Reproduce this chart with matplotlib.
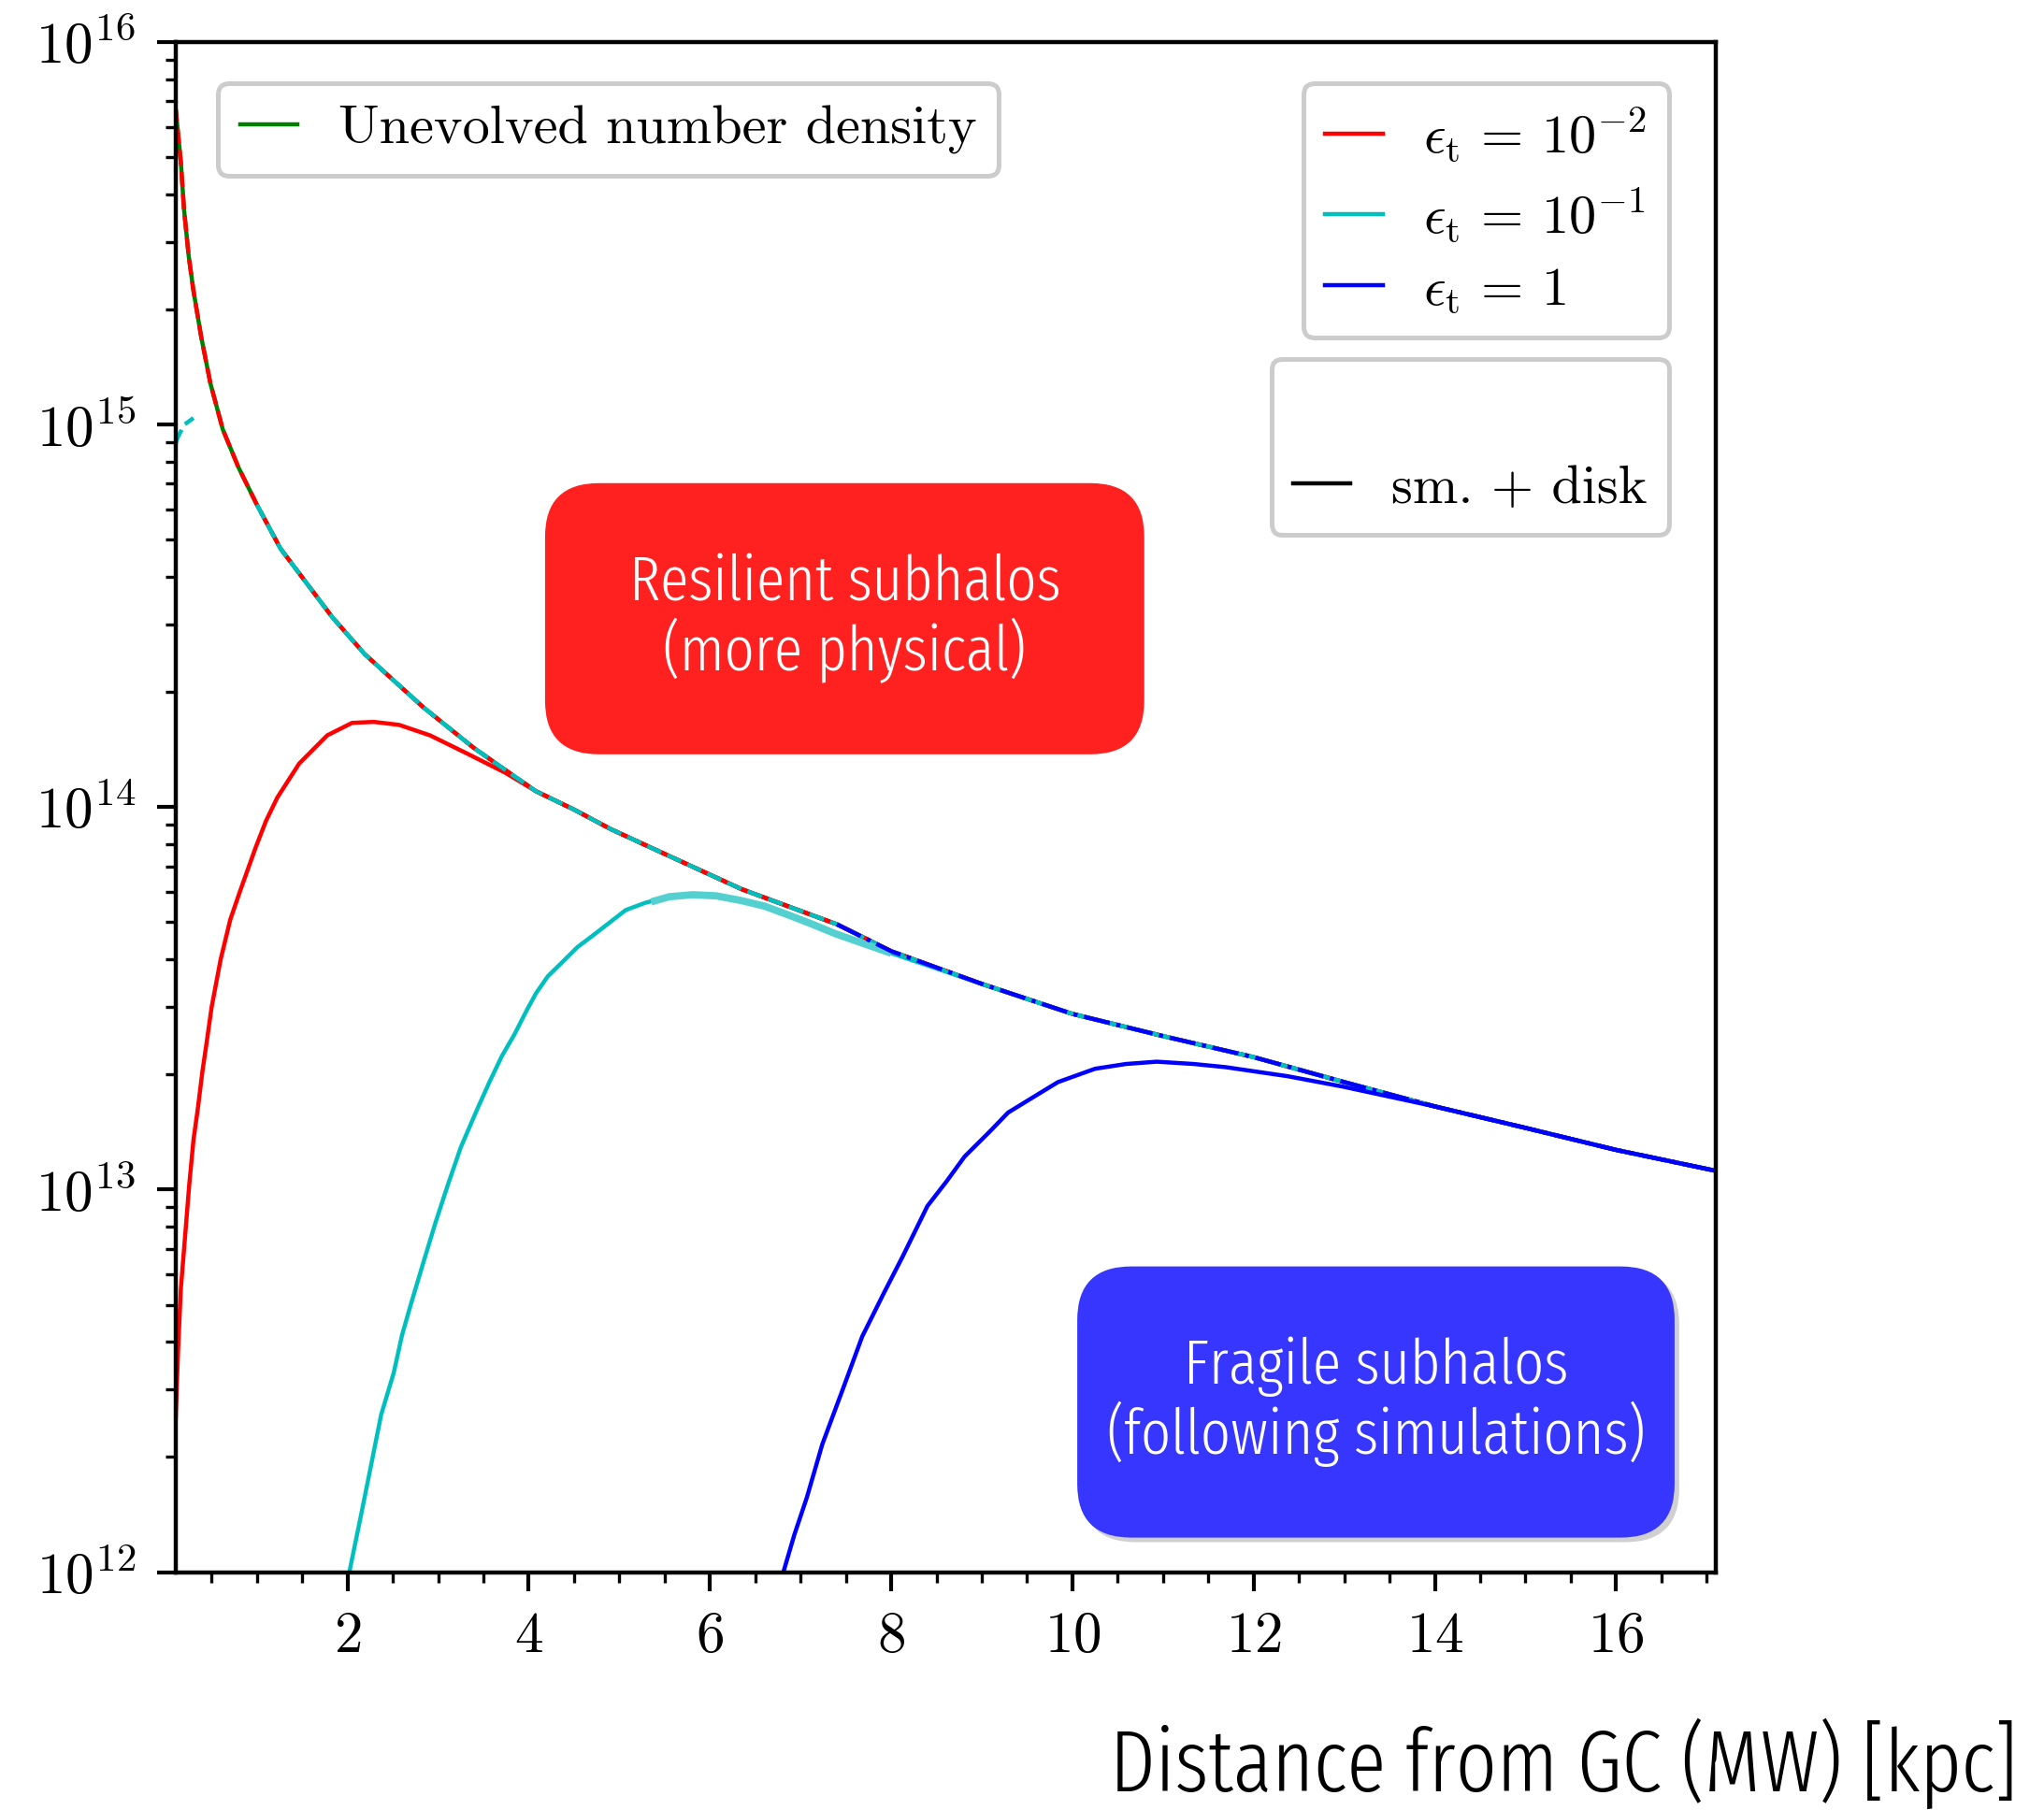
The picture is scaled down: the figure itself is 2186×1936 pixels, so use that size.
import numpy as np
import matplotlib
matplotlib.use('Agg')
import matplotlib.pyplot as plt
from matplotlib.lines import Line2D
from matplotlib.patches import FancyBboxPatch
from matplotlib.ticker import MultipleLocator

plt.rcParams['font.family'] = 'serif'
plt.rcParams['font.serif'] = ['cmr10']
plt.rcParams['mathtext.fontset'] = 'cm'
plt.rcParams['axes.formatter.use_mathtext'] = True
plt.rcParams['axes.unicode_minus'] = False

# unevolved number density (envelope)
r_env = [0.1, 0.16, 0.195, 0.246, 0.298, 0.384, 0.487, 0.624, 0.796, 1.0,
         1.26, 1.57, 1.83, 2.19, 2.55, 2.84, 3.39, 3.7, 4.08, 4.5, 4.9, 5.3,
         6.35, 7.4, 8.0, 9.0, 10.0, 11.0, 12.0, 13.0, 14.0, 15.0, 16.0, 17.1]
n_env = [6.8e15, 4.86e15, 3.66e15, 2.77e15, 2.25e15, 1.70e15, 1.28e15, 9.7e14,
         7.73e14, 6.17e14, 4.74e14, 3.79e14, 3.14e14, 2.51e14, 2.1e14, 1.82e14,
         1.43e14, 1.27e14, 1.10e14, 9.85e13, 8.77e13, 7.93e13, 6.1e13, 4.94e13,
         4.2e13, 3.45e13, 2.88e13, 2.52e13, 2.22e13, 1.91e13, 1.65e13, 1.45e13,
         1.27e13, 1.12e13]

# smooth + disk, rising part of each curve (joins the envelope afterwards)
r_red = [0.1, 0.13, 0.16, 0.2, 0.253, 0.3, 0.345, 0.4, 0.437, 0.5, 0.6, 0.706,
         0.814, 0.985, 1.1, 1.226, 1.467, 1.776, 2.05, 2.29, 2.57, 2.91, 3.32,
         3.74, 4.08]
n_red = [2.4e12, 3.8e12, 5.5e12, 7.2e12, 1.03e13, 1.35e13, 1.61e13, 2.05e13,
         2.35e13, 3.0e13, 4.0e13, 5.08e13, 6.03e13, 7.83e13, 9.2e13, 1.06e14,
         1.30e14, 1.54e14, 1.66e14, 1.67e14, 1.64e14, 1.54e14, 1.38e14,
         1.23e14, 1.10e14]
r_cyan = [2.02, 2.141, 2.233, 2.371, 2.51, 2.601, 2.693, 2.83, 2.97, 3.108,
          3.25, 3.43, 3.57, 3.706, 3.84, 3.98, 4.08, 4.21, 4.35, 4.535, 4.72,
          5.07, 5.285, 5.55, 5.81, 6.07, 6.34, 6.60, 6.86, 7.13, 7.39, 8.0]
n_cyan = [1.0e12, 1.38e12, 1.77e12, 2.58e12, 3.32e12, 4.16e12, 4.96e12,
          6.37e12, 8.19e12, 1.03e13, 1.29e13, 1.62e13, 1.92e13, 2.24e13,
          2.54e13, 2.95e13, 3.26e13, 3.61e13, 3.89e13, 4.3e13, 4.64e13,
          5.38e13, 5.62e13, 5.83e13, 5.9e13, 5.86e13, 5.7e13, 5.51e13, 5.23e13,
          4.94e13, 4.66e13, 4.15e13]
r_blue = [6.81, 6.93, 7.07, 7.24, 7.48, 7.68, 7.92, 8.13, 8.40, 8.61, 8.81,
          9.09, 9.29, 9.56, 9.84, 10.25, 10.59, 10.93, 11.34, 11.69, 12.37,
          12.98]
n_blue = [1.0e12, 1.25e12, 1.57e12, 2.16e12, 3.07e12, 4.13e12, 5.37e12,
          6.71e12, 9.06e12, 1.05e13, 1.22e13, 1.42e13, 1.59e13, 1.74e13,
          1.91e13, 2.07e13, 2.13e13, 2.16e13, 2.13e13, 2.09e13, 1.98e13, 1.86e13]

# short piece of the eps=0.1 dashed curve near the centre
r_cyan_in = [0.1, 0.13, 0.2, 0.3]
n_cyan_in = [8.9e14, 9.3e14, 1.0e15, 1.04e15]

# highlighted part of the eps=0.1 curve
r_hl = [5.35, 5.55, 5.81, 6.07, 6.34, 6.60, 6.86, 7.13, 7.39, 8.0]
n_hl = [5.65e13, 5.83e13, 5.9e13, 5.86e13, 5.7e13, 5.51e13, 5.23e13, 4.94e13,
        4.66e13, 4.15e13]

eps_labels = [r'$\epsilon_{\rm t} \,=\, 10^{-2}$', r'$\epsilon_{\rm t} \,=\, 10^{-1}$',
              r'$\epsilon_{\rm t} \,=\, 1$']
eps_colors = ['r', 'c', 'b']

r_env = np.array(r_env)
n_env = np.array(n_env)


def with_tail(r, n, r_from):
    m = r_env >= r_from
    return np.concatenate([r, r_env[m]]), np.concatenate([n, n_env[m]])


fig = plt.figure(figsize=(10.93, 9.68), dpi=200)
ax = fig.add_axes([0.0858, 0.1314, 0.7536, 0.8454])

lw = 1.6
ax.plot(r_env, n_env, color='g', lw=lw)

# eps = 1e-2
ax.plot(r_env, n_env, color='r', ls='--', lw=lw)
x, y = with_tail(r_red, n_red, 4.5)
ax.plot(x, y, color='r', lw=lw)

# eps = 1e-1
m = r_env >= 0.97
ax.plot(r_cyan_in, n_cyan_in, color='c', ls='--', lw=lw)
ax.plot(r_env[m], n_env[m], color='c', ls='--', lw=lw)
x, y = with_tail(r_cyan, n_cyan, 9.0)
ax.plot(x, y, color='c', lw=lw)
ax.plot(r_hl, n_hl, color='#55d0d0', lw=2.8, solid_capstyle='butt')

# eps = 1
m = r_env >= 7.0
ax.plot(r_env[m], n_env[m], color='b', ls='-.', lw=lw)
x, y = with_tail(r_blue, n_blue, 14.0)
ax.plot(x, y, color='b', lw=lw)

ax.set_yscale('log')
ax.set_xlim(0.1, 17.1)
ax.set_ylim(1e12, 1e16)
ax.xaxis.set_major_locator(MultipleLocator(2))
ax.xaxis.set_minor_locator(MultipleLocator(0.5))
ax.tick_params(which='both', direction='out', top=False, right=False,
               labelsize=22, pad=8)
ax.tick_params(which='major', length=7.3, width=1.5)
ax.tick_params(which='minor', length=4, width=1.2)
for s in ax.spines.values():
    s.set_linewidth(1.6)

leg_kw = dict(fontsize=21, framealpha=1, edgecolor='0.8', borderaxespad=0,
              handlelength=1.05, handletextpad=0.75, fancybox=True)

h_unev = [Line2D([], [], color='g', lw=lw)]
leg1 = ax.legend(h_unev, ['Unevolved number density'], loc='upper left',
                 bbox_to_anchor=(0.0278, 0.973), **leg_kw)
leg1.get_frame().set_linewidth(1.8)
ax.add_artist(leg1)

h_eps = [Line2D([], [], color=c, lw=lw) for c in eps_colors]
leg2 = ax.legend(h_eps, eps_labels, loc='upper right',
                 bbox_to_anchor=(0.9695, 0.973), labelspacing=0.4, **leg_kw)
leg2.get_frame().set_linewidth(1.8)
ax.add_artist(leg2)

h_sm = [Line2D([], [], color='none', lw=lw), Line2D([], [], color='k', lw=lw)]
leg3 = ax.legend(h_sm, [' ', 'sm. + disk'], loc='upper right',
                 bbox_to_anchor=(0.9695, 0.793), labelspacing=0.65, **leg_kw)
leg3.get_frame().set_linewidth(1.8)

sans = ['Fira Sans Extra Condensed', 'Fira Sans Condensed', 'Open Sans',
        'DejaVu Sans']

# annotation boxes
box_red = FancyBboxPatch((0.240, 0.5345), 0.389, 0.1772,
                         boxstyle='round,pad=0,rounding_size=0.035',
                         transform=ax.transAxes, fc='#ff2020', ec='none', zorder=5)
ax.add_patch(box_red)
ax.text(0.4345, 0.6231, 'Resilient subhalos\n(more physical)', transform=ax.transAxes,
        ha='center', va='center', color='white', fontsize=24.5, family=sans,
        weight=300, linespacing=1.08, zorder=6)

box_shadow = FancyBboxPatch((0.5885, 0.0196), 0.3878, 0.1772,
                            boxstyle='round,pad=0,rounding_size=0.035',
                            transform=ax.transAxes, fc='#d0d0d0', ec='none', zorder=4)
ax.add_patch(box_shadow)
box_blue = FancyBboxPatch((0.5855, 0.0226), 0.3878, 0.1772,
                          boxstyle='round,pad=0,rounding_size=0.035',
                          transform=ax.transAxes, fc='#3636ff', ec='none', zorder=5)
ax.add_patch(box_blue)
ax.text(0.7794, 0.1112, 'Fragile subhalos\n(following simulations)',
        transform=ax.transAxes, ha='center', va='center', color='white',
        fontsize=24.5, family=sans, weight=300, linespacing=1.08, zorder=6)

fig.text(0.987, 1 - 1916 / 1936, 'Distance from GC (MW) [kpc]', ha='right',
         va='baseline', fontsize=33.5, family=sans, weight=300)

fig.savefig('out.png', dpi=200)
